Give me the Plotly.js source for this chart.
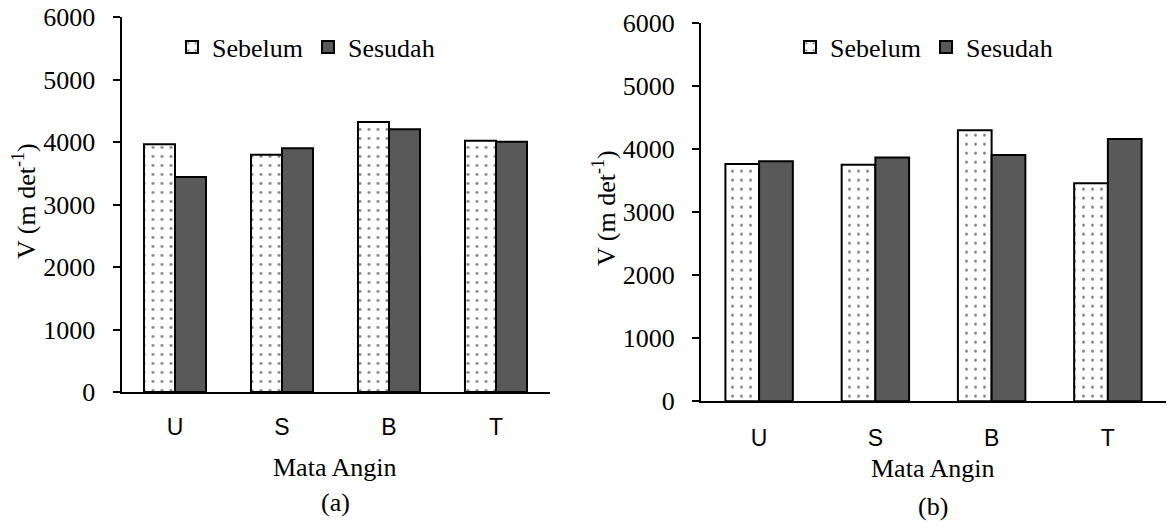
<!DOCTYPE html>
<html>
<head>
<meta charset="utf-8">
<script src="https://cdn.plot.ly/plotly-3.0.1.min.js"></script>
<style>html,body{margin:0;padding:0;background:#fff;}#chart{width:1167px;height:529px;}</style>
</head>
<body>
<div id="chart"></div>
<script>
const categories = ["U", "S", "B", "T"];
const sebelumA = [3965, 3795, 4320, 4020];
const sesudahA = [3440, 3900, 4205, 4005];
const sebelumB = [3760, 3750, 4295, 3455];
const sesudahB = [3805, 3865, 3905, 4155];
const yTicks = [0, 1000, 2000, 3000, 4000, 5000, 6000];
const seriesNames = ["Sebelum", "Sesudah"];

const W = 1167, H = 529;
const px = v => v / W;
const py = v => 1 - v / H;

const serif = "Liberation Serif, Times New Roman, serif";
const sans = "Liberation Sans, Arial, sans-serif";

const dotted = {
  color: "#ffffff",
  line: {color: "#000000", width: 2},
  pattern: {shape: ".", fgcolor: "#000000", bgcolor: "#ffffff", size: 9, solidity: 0.08, fillmode: "overlay"}
};
const solid = {color: "#595959", line: {color: "#000000", width: 2}};

const traces = [
  {type: "bar", x: categories, y: sebelumA, name: seriesNames[0], marker: dotted, xaxis: "x", yaxis: "y", legend: "legend"},
  {type: "bar", x: categories, y: sesudahA, name: seriesNames[1], marker: solid, xaxis: "x", yaxis: "y", legend: "legend"},
  {type: "bar", x: categories, y: sebelumB, name: seriesNames[0], marker: dotted, xaxis: "x2", yaxis: "y2", legend: "legend2"},
  {type: "bar", x: categories, y: sesudahB, name: seriesNames[1], marker: solid, xaxis: "x2", yaxis: "y2", legend: "legend2"}
];

function xAxis(d0, d1, anchor, standoff) {
  return {
    domain: [px(d0), px(d1)], anchor: anchor, showline: true, linecolor: "#000", linewidth: 2,
    ticks: "", showgrid: false, zeroline: false, fixedrange: true,
    tickfont: {family: sans, size: 23, color: "#000"}, ticklabelstandoff: standoff
  };
}
function yAxis(top, bottom, anchor) {
  return {
    domain: [py(bottom), py(top)], anchor: anchor, range: [0, 6000], tickvals: yTicks,
    ticktext: yTicks.map(String), showline: true, linecolor: "#000", linewidth: 2,
    ticks: "outside", ticklen: 7, tickwidth: 2, tickcolor: "#000", showgrid: false, zeroline: false,
    tickfont: {family: serif, size: 26, color: "#000"}, ticklabelstandoff: 12, fixedrange: true
  };
}

const legendBase = {
  orientation: "h", xanchor: "left", yanchor: "middle", bgcolor: "rgba(0,0,0,0)",
  font: {family: serif, size: 26, color: "#000"}, itemwidth: 30, tracegroupgap: 0
};

const layout = {
  width: W, height: H, margin: {l: 0, r: 0, t: 0, b: 0},
  paper_bgcolor: "#fff", plot_bgcolor: "#fff",
  barmode: "group", bargap: 0.42, bargroupgap: 0,
  xaxis: xAxis(121.5, 549.5, "y", 13),
  yaxis: yAxis(17, 392, "x"),
  xaxis2: xAxis(701, 1166, "y2", 15),
  yaxis2: yAxis(22.7, 401.3, "x2"),
  legend: Object.assign({}, legendBase, {x: px(172), y: py(47)}),
  legend2: Object.assign({}, legendBase, {x: px(790), y: py(47)}),
  annotations: [
    {text: "Mata Angin", xref: "paper", yref: "paper", x: px(335), y: py(467), showarrow: false, xanchor: "center", yanchor: "middle", font: {family: serif, size: 26, color: "#000"}},
    {text: "(a)", xref: "paper", yref: "paper", x: px(335), y: py(502), showarrow: false, xanchor: "center", yanchor: "middle", font: {family: serif, size: 26, color: "#000"}},
    {text: "Mata Angin", xref: "paper", yref: "paper", x: px(933), y: py(468), showarrow: false, xanchor: "center", yanchor: "middle", font: {family: serif, size: 26, color: "#000"}},
    {text: "(b)", xref: "paper", yref: "paper", x: px(933), y: py(506), showarrow: false, xanchor: "center", yanchor: "middle", font: {family: serif, size: 26, color: "#000"}},
    {text: "V (m det<sup>-1</sup>)", xref: "paper", yref: "paper", x: px(24), y: py(201), textangle: -90, showarrow: false, xanchor: "center", yanchor: "middle", font: {family: serif, size: 26, color: "#000"}},
    {text: "V (m det<sup>-1</sup>)", xref: "paper", yref: "paper", x: px(604), y: py(208), textangle: -90, showarrow: false, xanchor: "center", yanchor: "middle", font: {family: serif, size: 26, color: "#000"}}
  ]
};

Plotly.newPlot("chart", traces, layout, {staticPlot: true, displayModeBar: false});
</script>
</body>
</html>
